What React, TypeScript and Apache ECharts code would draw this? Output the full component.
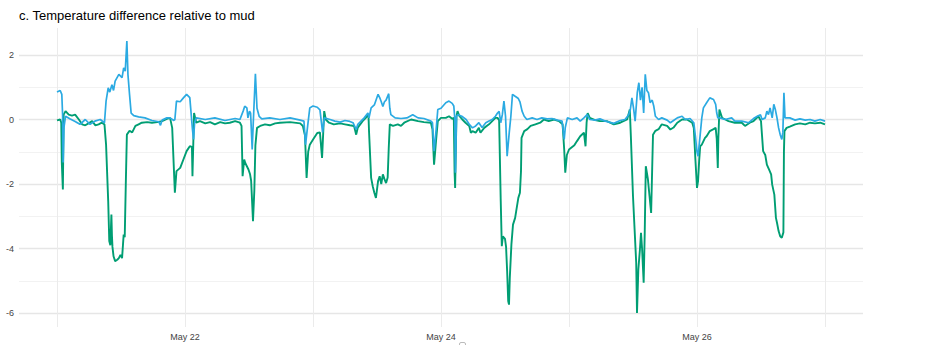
import React, { useEffect, useRef } from "react";
import * as echarts from "echarts";

const titleText = "c. Temperature difference relative to mud";

// x in hours since May 21 00:00
const xTickHours = [24, 72, 120];
const xTickLabels = ["May 22", "May 24", "May 26"];
const yTicks = [-6, -4, -2, 0, 2];

const blueHours = [
  0.0, 0.6, 0.9, 1.05, 1.15, 1.3, 1.6, 2.4, 3.4, 4.3, 5.3, 6.2, 7.1, 8.1, 8.9, 9.2, 9.6, 9.9, 10.3, 10.6,
  10.9, 11.6, 12.2, 12.5, 12.8, 13.1, 13.3, 13.6, 13.9, 14.4, 15.3, 16.5, 17.8, 19.1, 19.4, 19.7, 20.6, 21.2, 21.9, 22.1,
  22.4, 23.1, 23.7, 24.3, 24.9, 25.4, 25.6, 25.8, 26.1, 27.8, 29.6, 31.5, 33.4, 34.3, 34.9, 35.2, 35.6, 35.8, 36.1, 36.3,
  36.6, 36.8, 37.2, 37.5, 37.9, 38.4, 39.9, 41.8, 43.7, 45.6, 46.3, 46.6, 47.0, 47.4, 48.0, 48.8, 49.3, 49.8, 50.1, 51.2,
  52.1, 53.1, 54.0, 54.9, 55.5, 56.1, 56.4, 57.0, 57.6, 58.3, 58.5, 58.9, 59.5, 60.2, 60.5, 60.8, 61.1, 61.4, 61.7, 62.2,
  62.4, 62.6, 63.4, 64.5, 65.6, 66.7, 67.7, 68.8, 70.1, 70.4, 70.7, 71.1, 71.4, 72.0, 72.9, 73.5, 74.1, 74.4, 74.6, 74.7,
  74.9, 75.2, 75.9, 76.7, 77.3, 77.9, 78.5, 79.1, 79.7, 80.4, 81.0, 81.6, 82.2, 82.6, 82.9, 83.2, 83.5, 83.8, 84.1, 84.4,
  84.8, 85.1, 85.4, 85.9, 86.5, 86.8, 87.2, 87.6, 88.1, 89.1, 90.0, 90.9, 91.9, 92.8, 93.8, 94.7, 95.1, 95.3, 95.7, 96.6,
  97.5, 98.1, 98.8, 99.4, 99.9, 100.9, 101.8, 102.8, 104.4, 105.6, 106.5, 107.2, 107.5, 107.8, 108.1, 108.4, 108.8, 109.1, 109.4, 109.7,
  110.0, 110.3, 110.6, 110.9, 111.2, 111.6, 111.9, 112.2, 112.8, 113.4, 114.4, 115.0, 115.6, 116.3, 117.2, 117.8, 118.7, 119.4, 119.7, 120.0,
  120.2, 120.6, 120.9, 121.2, 121.8, 122.4, 123.1, 123.5, 123.7, 123.9, 124.3, 125.3, 126.5, 127.1, 128.4, 129.7, 130.6, 131.3, 131.9, 132.2,
  132.8, 133.1, 133.4, 133.7, 134.1, 134.4, 134.7, 135.0, 135.3, 135.6, 135.9, 136.1, 136.3, 136.5, 137.4, 138.4, 139.3, 140.3, 141.2, 142.1,
  143.1, 144.0,
];
const blueValues = [
  0.85, 0.9, 0.78, 0.15, -1.33, -0.25, 0.1, 0.02, -0.06, -0.15, 0.0, -0.15, -0.05, 0.0, -0.1, 0.57, 0.98, 0.85, 1.08, 0.9,
  1.19, 1.4, 1.3, 1.6, 1.5, 2.43, 1.4, 0.78, 0.2, 0.12, 0.08, 0.05, -0.03, -0.07, -0.18, -0.02, 0.05, 0.05, -0.03, 0.0,
  0.57, 0.55, 0.67, 0.78, 0.68, -0.31, -0.62, -0.1, 0.05, 0.0, 0.05, -0.03, 0.03, 0.0, 0.26, 0.41, 0.36, 0.05, 0.26, 0.2,
  -0.93, -0.1, 1.42, 0.35, 0.1, 0.02, 0.05, 0.0, 0.05, -0.02, -0.05, -0.78, -0.2, 0.36, 0.42, 0.38, 0.3, -0.4, 0.05, 0.0,
  -0.05, -0.08, -0.03, -0.06, -0.1, -0.31, -0.15, -0.05, 0.05, 0.2, 0.05, 0.36, 0.45, 0.78, 0.68, 0.55, 0.4, 0.55, 0.6, 0.8,
  0.35, 0.15, 0.05, 0.03, 0.05, 0.15, 0.05, 0.03, -0.05, -0.1, -0.98, -0.3, 0.31, 0.35, 0.52, 0.57, 0.5, 0.42, 0.0, -1.65,
  0.1, 0.15, 0.1, 0.0, -0.15, -0.26, -0.2, -0.1, -0.25, -0.1, -0.05, 0.0, 0.1, 0.2, 0.25, -0.1, 0.15, 0.57, 0.1, -1.14,
  -0.4, 0.1, 0.78, 0.72, 0.65, 0.55, 0.26, 0.1, 0.0, 0.05, 0.0, 0.05, 0.02, 0.03, -0.02, -0.05, -0.62, -0.25, 0.05, 0.0,
  0.05, -0.05, 0.05, 0.15, 0.0, -0.02, 0.02, -0.05, -0.12, -0.03, 0.0, 0.15, 0.31, 0.67, 0.35, -0.05, 0.83, 1.14, 0.6, 1.0,
  0.2, 1.4, 0.9, 0.83, 0.52, 0.6, 0.41, 0.1, 0.0, 0.05, -0.02, -0.1, -0.03, 0.05, 0.1, 0.0, 0.03, -0.1, -0.52, -1.0,
  -1.14, -0.47, 0.05, 0.36, 0.52, 0.67, 0.62, 0.47, 0.2, 0.05, 0.05, 0.0, 0.05, -0.05, -0.05, -0.1, 0.03, 0.1, 0.15, 0.0,
  0.05, 0.26, 0.15, 0.36, 0.05, 0.47, 0.3, 0.05, -0.26, -0.47, -0.62, -0.4, 0.83, 0.05, 0.05, -0.02, 0.02, -0.02, 0.0, -0.05,
  0.0, -0.05,
];

const greenHours = [
  0.0, 0.6, 0.8, 0.9, 1.1, 1.25, 1.6, 2.2, 2.8, 3.4, 4.1, 4.7, 5.3, 5.9, 6.6, 7.2, 7.8, 8.4, 8.9, 9.2,
  9.6, 9.8, 10.0, 10.2, 10.3, 10.4, 10.6, 10.9, 11.3, 11.6, 11.9, 12.2, 12.5, 12.7, 12.9, 13.1, 13.6, 14.1, 14.7, 15.3,
  15.9, 16.9, 17.8, 18.8, 19.7, 20.6, 21.2, 21.6, 22.1, 22.4, 23.1, 23.7, 24.3, 24.9, 25.3, 25.4, 25.7, 26.1, 26.8, 27.8,
  28.7, 29.6, 30.6, 31.5, 32.4, 33.4, 34.3, 34.6, 34.8, 35.1, 35.3, 35.6, 35.9, 36.2, 36.4, 36.75, 37.0, 37.2, 37.5, 38.1,
  39.0, 39.9, 40.9, 41.8, 43.7, 45.6, 46.1, 46.5, 46.8, 47.1, 47.4, 48.1, 48.8, 49.3, 49.7, 50.1, 50.4, 51.0, 51.9, 53.1,
  54.0, 54.9, 55.7, 56.1, 56.4, 57.3, 57.9, 58.4, 58.5, 58.9, 59.2, 59.5, 59.8, 60.2, 60.5, 60.8, 61.1, 61.4, 61.7, 62.0,
  62.2, 62.4, 63.0, 63.9, 64.5, 65.1, 66.4, 67.7, 68.8, 70.1, 70.4, 70.7, 71.1, 71.4, 72.0, 72.9, 73.5, 74.1, 74.4, 74.55,
  74.65, 74.9, 75.1, 75.4, 76.0, 76.6, 77.3, 77.6, 77.9, 78.5, 79.1, 79.4, 80.1, 81.0, 81.6, 82.2, 82.6, 82.9, 83.2, 83.4,
  83.6, 84.0, 84.2, 84.4, 84.6, 84.75, 84.9, 85.2, 85.5, 85.9, 86.1, 86.5, 86.8, 87.0, 87.1, 87.6, 88.2, 88.8, 89.7, 90.6,
  91.3, 92.2, 93.2, 94.1, 94.8, 95.1, 95.3, 95.6, 96.0, 97.0, 97.5, 98.1, 98.8, 99.1, 99.3, 99.5, 99.9, 100.9, 101.8, 103.1,
  104.4, 105.6, 106.9, 107.4, 107.6, 108.0, 108.3, 108.6, 108.75, 109.0, 109.3, 109.5, 109.7, 110.0, 110.2, 110.4, 110.6, 110.8, 111.1, 111.4,
  111.6, 111.75, 112.2, 112.8, 113.4, 114.4, 115.0, 115.6, 116.3, 117.2, 118.1, 119.1, 119.4, 119.7, 120.0, 120.2, 120.4, 120.6, 120.9, 121.5,
  121.8, 122.4, 123.1, 123.5, 123.7, 123.9, 124.0, 124.2, 124.7, 125.3, 125.9, 127.1, 128.4, 129.0, 129.9, 130.6, 131.5, 132.0, 132.4, 132.8,
  133.1, 133.5, 133.9, 134.1, 134.5, 134.8, 135.0, 135.3, 135.6, 135.9, 136.2, 136.3, 136.4, 136.8, 137.4, 138.4, 139.3, 140.3, 141.2, 142.1,
  143.1, 144.0,
];
const greenValues = [
  -0.03, 0.0, -0.1, -1.34, -2.17, 0.15, 0.26, 0.15, 0.12, 0.15, 0.0, -0.15, -0.18, -0.12, -0.05, -0.18, -0.15, -0.1, -0.15, -0.78,
  -2.53, -3.77, -3.9, -2.95, -3.6, -3.95, -4.24, -4.39, -4.35, -4.3, -4.2, -4.3, -3.57, -3.65, -2.0, -0.47, -0.35, -0.4, -0.2, -0.15,
  -0.1, -0.08, -0.1, -0.08, -0.05, 0.02, 0.05, -0.26, -2.27, -1.6, -1.5, -1.24, -0.98, -0.83, -0.85, -1.76, 0.2, -0.1, -0.05, -0.12,
  -0.08, -0.15, -0.08, -0.12, -0.1, -0.05, -0.1, -0.2, -1.76, -1.24, -1.35, -1.45, -1.55, -1.7, -1.9, -3.15, -2.2, -0.8, -0.26, -0.2,
  -0.15, -0.18, -0.12, -0.1, -0.08, -0.12, -0.2, -0.5, -1.81, -1.0, -0.78, -0.6, -0.42, -0.4, -1.19, 0.26, 0.0, -0.1, -0.15, -0.12,
  -0.15, -0.18, -0.2, -0.47, -0.25, -0.05, 0.05, 0.15, -0.35, -1.81, -2.07, -2.27, -2.43, -1.91, -1.76, -2.0, -1.7, -1.85, -1.97, -1.8,
  -0.9, -0.15, -0.2, -0.15, -0.2, -0.1, 0.0, -0.05, -0.08, -0.1, -0.3, -1.4, -0.6, -0.05, 0.05, 0.05, 0.1, 0.02, 0.05, -1.65,
  -2.12, 0.1, 0.26, 0.12, 0.0, -0.1, -0.2, -0.41, -0.36, -0.41, -0.26, -0.41, -0.26, -0.15, -0.05, 0.05, 0.05, -0.02, -2.53, -3.93,
  -3.62, -3.7, -3.95, -4.7, -5.63, -5.74, -4.91, -3.88, -3.26, -3.05, -2.84, -2.43, -2.27, -1.6, -0.57, -0.36, -0.3, -0.2, -0.15, -0.1,
  0.0, -0.05, 0.0, -0.05, -0.15, -0.93, -1.65, -1.1, -0.93, -0.8, -0.67, -0.52, -0.41, -0.83, -0.1, 0.2, 0.05, -0.02, -0.05, -0.05,
  -0.15, -0.1, 0.0, 0.31, -0.52, -2.38, -3.41, -4.44, -6.0, -4.65, -4.03, -3.51, -4.0, -5.06, -3.51, -1.45, -1.65, -1.86, -2.38, -2.9,
  -1.5, -0.47, -0.35, -0.3, -0.15, -0.2, -0.31, -0.25, -0.1, 0.0, 0.0, -0.1, -0.26, -1.24, -2.12, -1.9, -1.29, -0.83, -0.78, -0.57,
  -0.52, -0.36, -0.3, -0.26, -0.6, -1.5, -0.6, 0.31, 0.05, 0.0, -0.05, -0.1, -0.1, -0.2, -0.1, -0.05, 0.1, -0.05, -0.98, -1.1,
  -1.4, -1.55, -1.7, -2.02, -2.33, -3.05, -3.2, -3.46, -3.62, -3.67, -3.5, -1.0, -0.36, -0.26, -0.22, -0.15, -0.12, -0.15, -0.1, -0.12,
  -0.1, -0.15,
];

const BLUE = "#2BAAE2";
const GREEN = "#009E73";
const FONT = "Liberation Sans, Arial, sans-serif";

export default function App() {
  const ref = useRef<HTMLDivElement>(null);

  useEffect(() => {
    document.body.style.margin = "0";
    if (!ref.current) return;
    const chart = echarts.init(ref.current, undefined, { renderer: "svg" });

    const blueData = blueHours.map((h, i) => [h, blueValues[i]]);
    const greenData = greenHours.map((h, i) => [h, greenValues[i]]);

    const option: any = {
      animation: false,
      backgroundColor: "#ffffff",
      textStyle: { fontFamily: FONT },
      title: {
        text: titleText,
        left: 14,
        top: 4,
        textStyle: { fontSize: 13, fontWeight: "normal", color: "#000000", fontFamily: FONT },
      },
      grid: [
        { left: 19, right: 67, top: 55, bottom: 32, containLabel: false },
        { left: 57, right: 105, top: 28, bottom: 18, containLabel: false },
      ],
      xAxis: [
        { gridIndex: 0, type: "value", min: 0, max: 1, show: false },
        {
          gridIndex: 1,
          type: "value",
          min: 0,
          max: 144,
          interval: 24,
          axisLine: { show: false },
          axisTick: { show: false },
          axisLabel: {
            color: "#444444",
            fontSize: 9,
            margin: 5,
            fontFamily: FONT,
            formatter: (v: number) => {
              const idx = xTickHours.indexOf(v);
              return idx >= 0 ? xTickLabels[idx] : "";
            },
          },
          splitLine: { show: true, lineStyle: { color: "#ebebeb", width: 1 } },
        },
      ],
      yAxis: [
        {
          gridIndex: 0,
          type: "value",
          min: yTicks[0],
          max: yTicks[yTicks.length - 1],
          interval: 2,
          axisLine: { show: false },
          axisTick: { show: false },
          axisLabel: { color: "#444444", fontSize: 9, margin: 5, fontFamily: FONT },
          splitLine: { show: true, lineStyle: { color: "#e6e6e6", width: 1.3 } },
          minorTick: { show: false, splitNumber: 2 },
          minorSplitLine: { show: true, lineStyle: { color: "#f2f2f2", width: 1 } },
        },
        {
          gridIndex: 1,
          type: "value",
          min: -6.434,
          max: 2.837,
          show: false,
          splitLine: { show: false },
        },
      ],
      series: [
        {
          type: "line",
          xAxisIndex: 1,
          yAxisIndex: 1,
          data: greenData,
          showSymbol: false,
          symbol: "none",
          lineStyle: { color: GREEN, width: 1.9 },
          itemStyle: { color: GREEN },
          clip: false,
          z: 2,
        },
        {
          type: "line",
          xAxisIndex: 1,
          yAxisIndex: 1,
          data: blueData,
          showSymbol: false,
          symbol: "none",
          lineStyle: { color: BLUE, width: 1.7 },
          itemStyle: { color: BLUE },
          clip: false,
          z: 3,
        },
      ],
      graphic: [
        {
          type: "rect",
          left: 457,
          top: 340,
          shape: { width: 6, height: 8, r: 1.5 },
          style: { fill: "none", stroke: "#aaaaaa", lineWidth: 0.8 },
        },
      ],
    };

    chart.setOption(option);
    return () => chart.dispose();
  }, []);

  return <div ref={ref} style={{ width: 930, height: 345 }} />;
}
